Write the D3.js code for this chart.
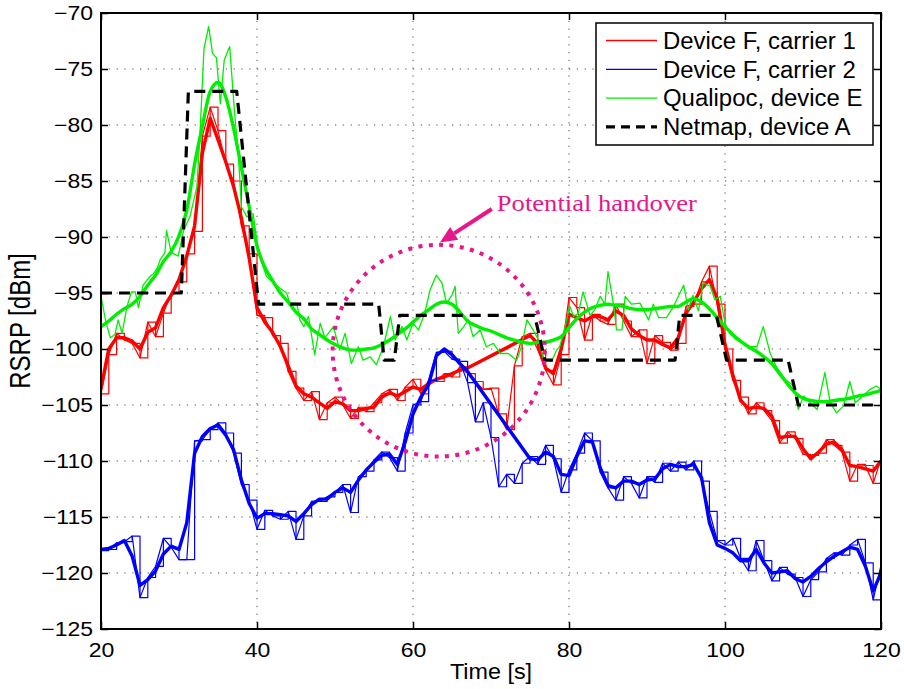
<!DOCTYPE html>
<html>
<head>
<meta charset="utf-8">
<script src="https://cdn.jsdelivr.net/npm/d3@7"></script>
<style>
  html, body { margin: 0; padding: 0; background: #fff; }
  svg { display: block; }
</style>
</head>
<body>
<svg id="chart" width="904" height="689"></svg>
<script>
// ---------------- DATA ----------------
const seconds = d3.range(20, 121);               // 1 s sample grid 20..120
const gapTimes = d3.range(20, 68).concat(d3.range(75, 121)); // smoothed traces skip 68..74

const redRaw = [-104,-100.5,-98.6,-99.2,-99.5,-100.8,-97.6,-98.9,-96.8,-95,
  -94,-91.5,-89.5,-81,-78.4,-80.5,-83.5,-85,-89,-91.5,
  -97,-97.2,-98.8,-99.5,-102,-103.5,-104.6,-103.8,-106.3,-104.8,
  -104.3,-105,-106.2,-105.2,-105.6,-104.8,-104,-103.6,-104.6,-103.4,
  -102.7,-104,-102.8,-102.9,-102.2,-102.5,-101.6,-102.2,-102.9,-103.6,
  -103.5,-105.8,-107.2,-101.5,-98.9,-98.6,-100.1,-101.9,-103.2,-100.5,
  -95.4,-96.3,-99.2,-96.9,-97.5,-97.8,-96,-97.5,-98.9,-98.3,
  -101.3,-98.8,-99.4,-100.1,-99.5,-96.2,-96,-94,-92.6,-96,
  -100,-102.8,-104.3,-105.8,-104.8,-105.5,-106.4,-108.4,-107.4,-108,
  -109.4,-109.5,-109.3,-108.1,-108.6,-109.2,-111.8,-110.3,-110.4,-112,
  -109.8];

const redSmooth = [-103.5,-100,-99,-99,-99.3,-100,-98.5,-98.1,-96.3,-95.2,
  -93.8,-91.7,-89,-82.5,-79.4,-81.3,-83.3,-85.5,-88.3,-91.9,
  -96.3,-97.6,-98.5,-99.8,-101.5,-103.3,-104,-104.3,-104.8,-105.3,
  -104.7,-104.9,-105.5,-105.5,-105.3,-105.2,-104.3,-103.9,-104.2,-103.8,
  -103.4,-103.6,-103.1,-102.7,-102.5,-102.2,-101.9,-101.7,
  -98.8,-99.5,-101.7,-102.2,-100,
  -96.9,-97.2,-97.5,-97.1,-97.1,-97.4,-96.6,-97,-98.2,-98.8,
  -99.2,-99.2,-99.6,-99.9,-99,-96.8,-95.8,-94.6,-93.8,-95.5,
  -99.6,-102.3,-104.6,-105.3,-105.2,-105.3,-106,-107.9,-107.8,-107.8,
  -108.9,-109.8,-109.2,-108.5,-108.3,-109,-110.4,-110.5,-110.7,-110.9,
  -110];

const blueRaw = [-118,-117.9,-117.3,-117.2,-116.7,-122.2,-120.4,-119.4,-116.9,-117.7,
  -118.8,-118.8,-108.2,-108.1,-107.2,-106.6,-107.5,-109.3,-112.1,-113.5,
  -116.1,-114.4,-114.9,-115.2,-114.5,-117,-114.9,-113.6,-113.6,-113.2,
  -112.8,-112.1,-114.6,-111.4,-110.9,-109.9,-109.2,-109.7,-110.9,-107.5,
  -105,-104.7,-102.8,-100.3,-100.2,-100.9,-101.1,-103,-106.5,-104.8,
  -107.9,-112.3,-111.2,-112,-110.2,-109.6,-110.3,-108.6,-109.8,-112.8,
  -110.8,-109.3,-107.5,-108.2,-111,-112.4,-113.5,-111.4,-112,-113.3,
  -111.4,-111.9,-110.2,-110.9,-110.1,-110.8,-110,-111.8,-114.5,-117.1,
  -117.5,-116.9,-118.7,-119.8,-117.1,-118.9,-120.7,-119.5,-120.1,-120.4,
  -122.1,-120.6,-119.9,-118.7,-118.2,-118.4,-117.5,-117,-119.1,-122.4,
  -119.3];

const blueSmooth = [-117.9,-117.8,-117.5,-117.1,-118.5,-121.1,-120.6,-119.8,-118.3,-117.6,
  -117.9,-115.5,-109.3,-107.8,-107.1,-106.8,-107.7,-109,-111.7,-113.8,
  -115.1,-114.7,-114.7,-114.8,-114.9,-115.4,-114.7,-113.9,-113.4,-113.4,
  -112.8,-112.4,-112.8,-111.7,-110.8,-110.1,-109.5,-109.4,-110.3,-108.3,
  -105.8,-104.3,-103.2,-100.6,-100,-100.5,-101.3,-102,
  -109.8,-109.9,-109.2,-109.6,-111.2,
  -111.3,-109.6,-108.2,-108.3,-110.6,-112.2,-112.4,-111.8,-111.8,-112.1,
  -111.7,-111.6,-110.7,-110.3,-110.5,-110.5,-110.3,-111.5,-115.5,-117.5,
  -117.8,-118.2,-118.9,-118.9,-117.9,-119.1,-120,-119.9,-119.8,-120.5,
  -120.8,-120.3,-119.6,-119,-118.5,-118.1,-117.7,-117.9,-119.4,-121.6,
  -120];

const greenRawT = [20,20.6,21.2,21.8,22.2,22.7,23.3,23.9,24.4,24.8,25.4,26.3,26.7,27.2,27.6,28.2,28.4,29,29.9,30.6,
  31.4,32.3,32.7,33.2,33.8,34.3,34.8,35.3,35.8,36.5,37.1,37.6,38,38.7,39.5,40.2,41.2,42.1,43,43.8,
  44.2,45.1,45.5,46,46.6,47.4,48.1,48.7,49.8,50.6,51.3,52.1,53,53.6,54.5,55.3,56.2,57.1,57.7,58.6,
  59.2,60,60.7,61.5,62.2,63,63.7,64.3,65,65.4,65.8,66.5,67.1,67.7,68.6,69.4,70.3,71.2,72.2,73.3,
  73.9,74.6,75.4,76.1,76.7,77.8,78.4,78.8,79.3,80.1,80.6,81.2,81.8,82.7,83.3,84,84.6,85,85.7,86.1,
  86.8,87.2,88,89.1,90.2,90.8,91.5,92.5,93.4,94.7,95.3,95.9,96.6,97.2,98.1,98.7,99.4,100,100.6,101.5,
  102.3,103.2,104.1,104.9,105.8,106.6,107.7,108.8,109.4,110.1,110.9,111.8,112.8,113.5,114.3,115.2,116,116.7,117.7,118.6,
  119.4,120];
const greenRawV = [-95.3,-97.5,-99,-98.7,-97.4,-98.6,-96.3,-94.9,-94.9,-96.3,-94.3,-93.5,-93.3,-92.8,-92,-91.4,-89.4,-91.4,-91.7,-89.4,
  -88.2,-85.5,-80.7,-73.2,-71.2,-73.6,-74,-78.1,-74.2,-73,-78.7,-82.5,-87.3,-88.2,-87.9,-91.4,-93.5,-94.1,-94.6,-95,
  -95.9,-95.9,-97.4,-98,-97.1,-100.5,-97.7,-99,-98,-100.1,-98.6,-101.3,-99.8,-101,-100.7,-101.4,-99.8,-97.1,-99.2,-98,
  -99.2,-97.7,-98.3,-96.8,-94.7,-93.4,-94.1,-95.9,-95.2,-94.4,-98.6,-98,-97.4,-98.9,-98.3,-99.8,-99.5,-100.4,-100.4,-101,
  -99.8,-97.4,-98.3,-99.2,-100.8,-101.1,-100.1,-99.8,-98.6,-96.2,-97.1,-96.8,-94.9,-97,-96.5,-95.3,-96,-93.1,-96,-98.3,
  -98.3,-95.3,-96,-95.9,-97.4,-96,-97.2,-97.2,-96.2,-94.3,-96.5,-95.2,-96.6,-94.1,-94.4,-95.6,-95.3,-97.7,-98.6,-99.2,
  -99.5,-99.8,-99.8,-98,-100.4,-101.6,-102.7,-103.3,-105.4,-104.2,-104.8,-105.4,-102.1,-104.8,-105.7,-105.1,-102.9,-104.8,-104.2,-103.6,
  -103.3,-103.6];

const greenSmooth = [-98,-97.5,-96.9,-96.4,-96,-95.3,-94.3,-93.4,-92.2,-91.3,
  -89.9,-87.6,-83.5,-80.1,-77,-76.2,-77.5,-80.3,-83.8,-87.3,
  -90.8,-92.7,-93.9,-95,-95.8,-96.7,-97.3,-98.2,-98.7,-99.2,
  -99.6,-99.9,-100.1,-100.1,-100,-99.9,-99.6,-99.2,-98.7,-98.2,
  -97.6,-97,-96.5,-96,-95.8,-96,-96.7,-97.5,-97.9,-98.2,
  -98.4,-98.7,-99,-99.2,-99.4,-99.5,-99.4,-99.4,-99.2,-98.9,
  -98.1,-97.3,-96.7,-96.3,-96.1,-96,-96.1,-96.2,-96.4,-96.5,
  -96.5,-96.4,-96.3,-96.2,-96.2,-95.8,-95.5,-95.8,-96.4,-97.2,
  -98,-98.7,-99.3,-99.8,-100.2,-100.7,-101.3,-102.2,-103.1,-103.9,
  -104.4,-104.6,-104.7,-104.7,-104.6,-104.5,-104.4,-104.2,-104.1,-103.9,
  -103.7];

const netmapT = [20,30.3,31.2,37.4,40.2,55.6,56.3,57.6,58.3,75.6,76.9,93.6,94.2,98.9,100.2,108.1,109.4,120];
const netmapV = [-95,-95,-77,-77,-96,-96,-101,-101,-97,-97,-101,-101,-97,-97,-101,-101,-105,-105];

const xTicks = [20,40,60,80,100,120];
const yTicks = [-125,-120,-115,-110,-105,-100,-95,-90,-85,-80,-75,-70];
const legendLabels = ["Device F, carrier 1","Device F, carrier 2","Qualipoc, device E","Netmap, device A"];

// annotation (data coordinates)
const handoverCircle = {t: 63.3, v: -100.15, rt: 13.6, rv: 9.45};
const arrowFrom = {t: 70.1, v: -87.5};
const arrowTo = {t: 63.45, v: -90.5};
const noteText = {t: 70.75, v: -87.65, label: "Potential handover"};

// ---------------- LAYOUT ----------------
const L = 101, R = 881, T = 13, B = 629;
const RED = "#ff0000", BLUE = "#0000ff", GREEN = "#00ee00", MAG = "#e6178a";
const SANS = "'Liberation Sans', Arial, Helvetica, sans-serif";

const svg = d3.select("#chart");
const x = d3.scaleLinear().domain([20,120]).range([L,R]);
const y = d3.scaleLinear().domain([-125,-70]).range([B,T]);

function stretch(sel, k) {
  sel.each(function() {
    const len = this.getComputedTextLength();
    this.setAttribute("textLength", (len * k).toFixed(1));
    this.setAttribute("lengthAdjust", "spacingAndGlyphs");
  });
}

svg.append("defs").append("clipPath").attr("id","clip")
  .append("rect").attr("x",L).attr("y",T).attr("width",R-L).attr("height",B-T);

// grid
const grid = svg.append("g");
grid.selectAll("line.vx").data(xTicks.slice(1,-1)).enter().append("line")
  .attr("x1",d=>x(d)).attr("x2",d=>x(d)).attr("y1",T).attr("y2",B)
  .attr("stroke","#555").attr("stroke-width",1).attr("stroke-dasharray","1.3,6.5");
grid.selectAll("line.hy").data(yTicks.slice(1,-1)).enter().append("line")
  .attr("y1",d=>y(d)).attr("y2",d=>y(d)).attr("x1",L).attr("x2",R)
  .attr("stroke","#555").attr("stroke-width",1).attr("stroke-dasharray","1.3,6.5");

// lines
const plot = svg.append("g").attr("clip-path","url(#clip)");
const lin = d3.line().x(d=>x(d[0])).y(d=>y(d[1]));
const stp = d3.line().curve(d3.curveStepAfter).x(d=>x(d[0])).y(d=>y(d[1]));
const smooth = d3.line().curve(d3.curveMonotoneX).x(d=>x(d[0])).y(d=>y(d[1]));
const zip = (a,b) => a.map((t,i)=>[t,b[i]]);

function path(gen, data, color, w, dash) {
  const p = plot.append("path").attr("d", gen(data)).attr("fill","none")
    .attr("stroke",color).attr("stroke-width",w).attr("stroke-linejoin","round");
  if (dash) p.attr("stroke-dasharray",dash);
  return p;
}

const redRawPts = zip(seconds, redRaw);
path(lin, redRawPts, RED, 1.2);
path(stp, redRawPts, RED, 1.2);
path(lin, zip(gapTimes, redSmooth), RED, 3.4);

const blueRawPts = zip(seconds, blueRaw);
path(lin, blueRawPts, BLUE, 1.2);
path(stp, blueRawPts, BLUE, 1.2);
path(lin, zip(gapTimes, blueSmooth), BLUE, 3.4);

path(lin, zip(greenRawT, greenRawV), GREEN, 1.3);
path(smooth, zip(seconds, greenSmooth), GREEN, 3.4);

path(lin, zip(netmapT, netmapV), "#000", 3.2, "11,7");

// annotation: dotted circle, arrow, text
const c = handoverCircle;
svg.append("ellipse")
  .attr("cx", x(c.t)).attr("cy", y(c.v))
  .attr("rx", x(c.t + c.rt) - x(c.t)).attr("ry", y(c.v - c.rv) - y(c.v))
  .attr("fill","none").attr("stroke",MAG).attr("stroke-width",4)
  .attr("stroke-dasharray","4,6.4");

const ax0 = x(arrowFrom.t), ay0 = y(arrowFrom.v), ax1 = x(arrowTo.t), ay1 = y(arrowTo.v);
const ang = Math.atan2(ay1 - ay0, ax1 - ax0);
const headLen = 17, headW = 7.5;
const bx = ax1 - headLen*Math.cos(ang), by = ay1 - headLen*Math.sin(ang);
svg.append("line").attr("x1",ax0).attr("y1",ay0).attr("x2",bx).attr("y2",by)
  .attr("stroke",MAG).attr("stroke-width",4);
svg.append("path")
  .attr("d", `M${ax1},${ay1} L${bx + headW*Math.sin(ang)},${by - headW*Math.cos(ang)} L${bx - headW*Math.sin(ang)},${by + headW*Math.cos(ang)} Z`)
  .attr("fill",MAG);

svg.append("text").attr("x", x(noteText.t)).attr("y", y(noteText.v))
  .attr("font-family","'Liberation Serif', 'DejaVu Serif', serif").attr("font-size",24)
  .attr("fill",MAG).attr("textLength",200).attr("lengthAdjust","spacingAndGlyphs")
  .text(noteText.label);

// axes
const xAxis = d3.axisBottom(x).tickValues(xTicks).tickSize(-7).tickSizeOuter(0).tickPadding(14).tickFormat(d3.format("d"));
const yAxis = d3.axisLeft(y).tickValues(yTicks).tickSize(-7).tickSizeOuter(0).tickPadding(8).tickFormat(d3.format("d"));
const xTop = d3.axisTop(x).tickValues(xTicks).tickSize(-7).tickSizeOuter(0).tickFormat("");
const yRight = d3.axisRight(y).tickValues(yTicks).tickSize(-7).tickSizeOuter(0).tickFormat("");

function styleAxis(g) {
  g.select(".domain").remove();
  g.selectAll(".tick line").attr("stroke","#000").attr("stroke-width",1.5);
  g.selectAll(".tick text").attr("fill","#000").attr("font-family",SANS).attr("font-size",20);
}
const gx = svg.append("g").attr("transform",`translate(0,${B})`).call(xAxis).call(styleAxis);
const gy = svg.append("g").attr("transform",`translate(${L},0)`).call(yAxis).call(styleAxis);
svg.append("g").attr("transform",`translate(0,${T})`).call(xTop).call(styleAxis);
svg.append("g").attr("transform",`translate(${R},0)`).call(yRight).call(styleAxis);
stretch(gx.selectAll(".tick text"), 1.15);
stretch(gy.selectAll(".tick text"), 1.15);

svg.append("rect").attr("x",L).attr("y",T).attr("width",R-L).attr("height",B-T)
  .attr("fill","none").attr("stroke","#000").attr("stroke-width",2);

// axis titles
const xt = svg.append("text").attr("x",(L+R)/2).attr("y",679).attr("text-anchor","middle")
  .attr("font-family",SANS).attr("font-size",22).attr("fill","#000").text("Time [s]");
stretch(xt, 1.06);
svg.append("text").attr("transform",`translate(30,${(T+B)/2}) scale(1.22,1) rotate(-90)`)
  .attr("text-anchor","middle").attr("font-family",SANS).attr("font-size",24).attr("fill","#000")
  .text("RSRP [dBm]");

// legend
const lg = svg.append("g");
lg.append("rect").attr("x",596).attr("y",23).attr("width",277).attr("height",122)
  .attr("fill","#fff").attr("stroke","#000").attr("stroke-width",1.5);
const legStyles = [
  {c: RED, w: 1.3, d: null},
  {c: BLUE, w: 1.3, d: null},
  {c: GREEN, w: 1.3, d: null},
  {c: "#000", w: 3.2, d: "9,6"}
];
legendLabels.forEach((lab, i) => {
  const yy = 40.5 + i*28.8;
  const s = legStyles[i];
  const ln = lg.append("line").attr("x1",606).attr("x2",657).attr("y1",yy).attr("y2",yy)
    .attr("stroke",s.c).attr("stroke-width",s.w);
  if (s.d) ln.attr("stroke-dasharray",s.d);
  const t = lg.append("text").attr("x",663).attr("y",yy+8.3)
    .attr("font-family",SANS).attr("font-size",23).attr("fill","#000").text(lab);
  stretch(t, 1.04);
});
</script>
</body>
</html>
